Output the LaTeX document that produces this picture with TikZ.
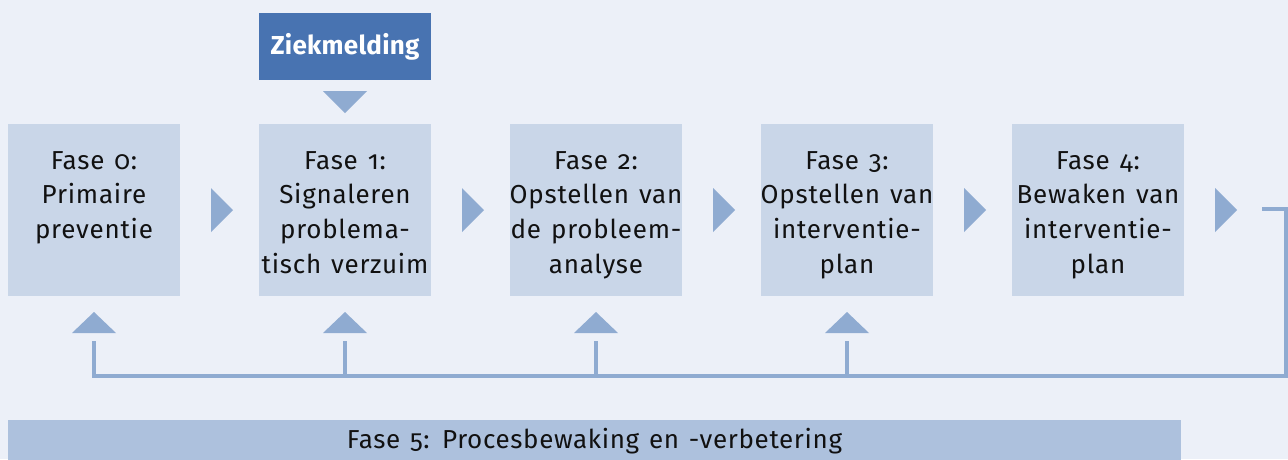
\documentclass[tikz,border=0pt]{standalone}
\usepackage{fontspec}
\setmainfont{Fira Sans}[Numbers=OldStyle]
\newfontfamily\boxfont{Fira Sans}[Numbers=OldStyle, LetterSpace=3.0, WordSpace=1.3]
\newfontfamily\barfont{Fira Sans}[Numbers=OldStyle, LetterSpace=2.5, WordSpace=1.3]
\newfontfamily\ziekfont{Fira Sans}[LetterSpace=1.0]
\usetikzlibrary{calc}
\definecolor{bgc}{HTML}{ECF0F8}
\definecolor{boxc}{HTML}{C9D6E8}
\definecolor{tric}{HTML}{8FABD1}
\definecolor{ziekc}{HTML}{4873B1}
\definecolor{f5c}{HTML}{ADC1DD}
\definecolor{txtc}{HTML}{111111}
\begin{document}
\begin{tikzpicture}[x=1pt,y=-1pt,
  phasebox/.style={fill=boxc, draw=none, minimum width=172pt, minimum height=172pt, inner sep=0pt, outer sep=0pt},
  phasetxt/.style={anchor=north, align=center, inner sep=0pt, text=txtc, font=\boxfont\fontsize{26}{34.7}\selectfont},
  trifill/.style={fill=tric, draw=none},
  fbline/.style={draw=tric, line width=4pt}
]
\fill[bgc] (0,0) rectangle (1288,459);
\useasboundingbox (0,0) rectangle (1288,459);

% Ziekmelding
\node[fill=ziekc, minimum width=172pt, minimum height=67pt, inner sep=0pt, text=white,
  font=\ziekfont\fontsize{26}{30}\selectfont\bfseries] (ziek) at (345,46.5) {Ziekmelding};

% phase boxes
\node[phasebox] (f0) at (94,210) {};
\node[phasebox] (f1) at (345,210) {};
\node[phasebox] (f2) at (596,210) {};
\node[phasebox] (f3) at (847,210) {};
\node[phasebox] (f4) at (1098,210) {};

\node[phasetxt] (t0) at (94,151) {Fase 0:\\Primaire\\preventie};
\node[phasetxt] (t1) at (345,151) {Fase 1:\\Signaleren\\problema-\\tisch verzuim};
\node[phasetxt] (t2) at (596,151) {Fase 2:\\Opstellen van\\de probleem-\\analyse};
\node[phasetxt] (t3) at (847,151) {Fase 3:\\Opstellen van\\interventie-\\plan};
\node[phasetxt] (t4) at (1098,151) {Fase 4:\\Bewaken van\\interventie-\\plan};

% Fase 5 bar
\node[fill=f5c, minimum width=1173pt, minimum height=42pt, inner sep=0pt, text=txtc,
  font=\barfont\fontsize{26}{30}\selectfont] (f5) at (594.5,441) {Fase 5: Procesbewaking en -verbetering};

% down triangle under Ziekmelding
\fill[trifill] ($(ziek.south)+(-22,11)$) -- ($(ziek.south)+(22,11)$) -- ($(ziek.south)+(0,33)$) -- cycle;

% right triangles between phases
\foreach \n in {f0,f1,f2,f3,f4}{
  \fill[trifill] ($(\n.east)+(31,-22)$) -- ($(\n.east)+(53,0)$) -- ($(\n.east)+(31,22)$) -- cycle;
}

% feedback loop
\coordinate (out) at ($(f4.east)+(78,-1)$);
\coordinate (rc) at (1286,376);
\coordinate (lc) at (94,376);
\draw[fbline] (out) -| (rc) -- (lc) -- ($(f0.south)+(0,45)$);
\foreach \n in {f1,f2,f3}{
  \draw[fbline] (\n.south |- lc) -- ($(\n.south)+(0,45)$);
}
\foreach \n in {f0,f1,f2,f3}{
  \fill[trifill] ($(\n.south)+(-22,37)$) -- ($(\n.south)+(0,16)$) -- ($(\n.south)+(22,37)$) -- cycle;
}
\end{tikzpicture}
\end{document}
